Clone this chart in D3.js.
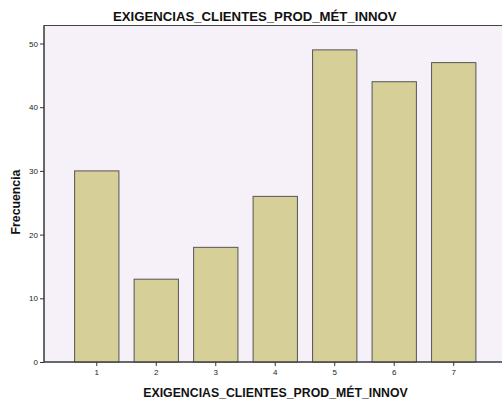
<!DOCTYPE html>
<html><head><meta charset="utf-8">
<script src="https://cdn.jsdelivr.net/npm/d3@7"></script>
<style>body{margin:0;background:#fff;} svg{display:block;}</style>
</head><body>
<svg id="c" width="502" height="405"></svg>
<script>
const categories = ["1","2","3","4","5","6","7"];
const frequencies = [30, 13, 18, 26, 49, 44, 47];
const yTicks = [0, 10, 20, 30, 40, 50];
const title = "EXIGENCIAS_CLIENTES_PROD_MÉT_INNOV";
const xTitle = "EXIGENCIAS_CLIENTES_PROD_MÉT_INNOV";
const yTitle = "Frecuencia";

const svg = d3.select("#c");
const plot = {left: 44, top: 25.5, right: 506, bottom: 362};
const x = d3.scaleBand().domain(categories).range([67, 483.5]).paddingInner(0.255).paddingOuter(0.128);
const y = d3.scaleLinear().domain([0, 50]).range([362, 43.5]);

svg.append("rect").attr("x", plot.left).attr("y", plot.top)
  .attr("width", plot.right - plot.left).attr("height", plot.bottom - plot.top)
  .attr("fill", "#F6F1F8").attr("stroke", "#444").attr("stroke-width", 1);

svg.selectAll(".bar").data(frequencies).join("rect")
  .attr("x", (d, i) => x(categories[i]))
  .attr("y", d => y(d))
  .attr("width", x.bandwidth())
  .attr("height", d => y(0) - y(d))
  .attr("fill", "#D6CF98").attr("stroke", "#555").attr("stroke-width", 1);

const yAxis = svg.append("g").attr("transform", `translate(${plot.left},0)`)
  .call(d3.axisLeft(y).tickValues(yTicks).tickSize(4).tickPadding(2));
yAxis.select(".domain").attr("d", `M0,${plot.top}V${plot.bottom}`).attr("stroke", "#333");
yAxis.selectAll("line").attr("stroke", "#333");
yAxis.selectAll("text").attr("font-family", "Arial, Liberation Sans, sans-serif").attr("font-size", 8).attr("fill", "#222");

const xAxis = svg.append("g").attr("transform", `translate(0,${plot.bottom})`)
  .call(d3.axisBottom(x).tickSize(4).tickPadding(3));
xAxis.select(".domain").attr("d", `M${plot.left},0H${plot.right}`).attr("stroke", "#333");
xAxis.selectAll("line").attr("stroke", "#333");
xAxis.selectAll("text").attr("font-family", "Arial, Liberation Sans, sans-serif").attr("font-size", 8).attr("fill", "#222");

svg.append("text").attr("x", 254.7).attr("y", 20.5).attr("text-anchor", "middle")
  .attr("font-family", "Arial, Liberation Sans, sans-serif").attr("font-weight", "bold").attr("font-size", 13.2).attr("fill", "#111")
  .text(title);
svg.append("text").attr("x", 275.5).attr("y", 397).attr("text-anchor", "middle")
  .attr("font-family", "Arial, Liberation Sans, sans-serif").attr("font-weight", "bold").attr("font-size", 12.3).attr("fill", "#111")
  .text(xTitle);
svg.append("text").attr("transform", "translate(19.5,202) rotate(-90)").attr("text-anchor", "middle")
  .attr("font-family", "Arial, Liberation Sans, sans-serif").attr("font-weight", "bold").attr("font-size", 12.3).attr("fill", "#111")
  .text(yTitle);
</script>
</body></html>
